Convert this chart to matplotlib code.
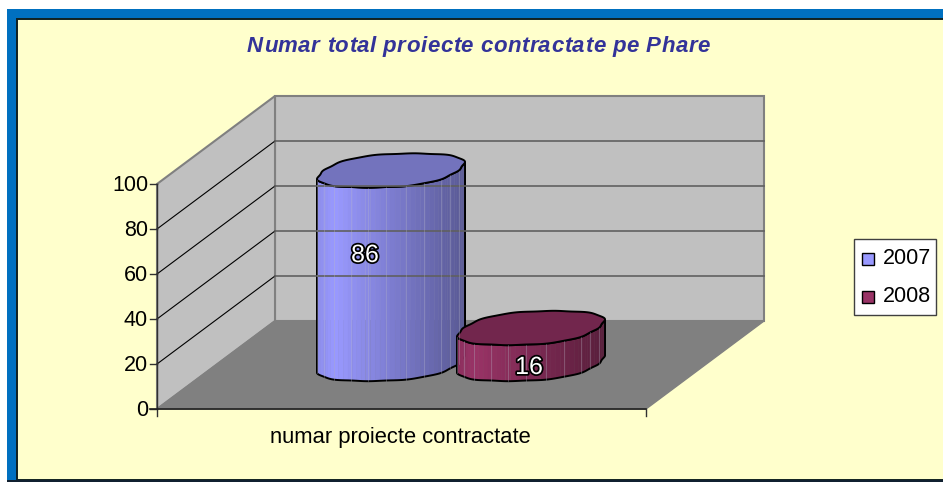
# -*- coding: utf-8 -*-
import numpy as np
import matplotlib
matplotlib.use('Agg')
import matplotlib.pyplot as plt
import matplotlib.patheffects as pe
from matplotlib.patches import Polygon, Rectangle

plt.rcParams['font.family'] = ['Liberation Sans', 'DejaVu Sans']

# data
title = 'Numar total proiecte contractate pe Phare'
category = 'numar proiecte contractate'
years = ['2007', '2008']
values = [86, 16]
y_ticks = [0, 20, 40, 60, 80, 100]

# colours
light = [(153, 153, 255), (153, 51, 102)]
tops = ['#7373bd', '#72264d']

# chart box, in pixels
x0, x1 = 157, 646
y0, y100 = 409, 184
dx, dy = 118, 88


def val_y(v):
    return y0 - v * (y0 - y100) / 100.0


fig = plt.figure(figsize=(9.43, 4.82), dpi=100)
ax = fig.add_axes([0, 0, 1, 1])
ax.set_xlim(0, 943)
ax.set_ylim(482, 0)
ax.axis('off')

# frame
ax.add_patch(Rectangle((7, 9), 940, 480, fc='#0070c0', ec='none'))
ax.add_patch(Rectangle((17, 19), 930, 461, fc='#ffffcc', ec='#102020', lw=1.4))
ax.add_patch(Rectangle((7, 480), 940, 3, fc='#102030', ec='none', zorder=5))

# walls and floor
ax.add_patch(Polygon([(x0 + dx, y100 - dy), (x1 + dx, y100 - dy), (x1 + dx, y0 - dy), (x0 + dx, y0 - dy)],
                     fc='#c0c0c0', ec='#808080', lw=1.5))
ax.add_patch(Polygon([(x0, y100), (x0 + dx, y100 - dy), (x0 + dx, y0 - dy), (x0, y0)],
                     fc='#c0c0c0', ec='#808080', lw=1.5))
ax.add_patch(Polygon([(x0, y0), (x1, y0), (x1 + dx, y0 - dy), (x0 + dx, y0 - dy)],
                     fc='#808080', ec='#808080', lw=1))

for t in y_ticks:
    y = val_y(t)
    if t not in (0, 100):
        ax.plot([x0, x0 + dx], [y, y - dy], color='black', lw=0.8)
        ax.plot([x0 + dx, x1 + dx], [y - dy, y - dy], color='#606060', lw=1.2)
    ax.plot([x0 - 7, x0], [y, y], color='#303030', lw=1)
    ax.text(x0 - 9, y + 1.5, str(t), ha='right', va='center', fontsize=15.5, color='black')

ax.plot([x0, x0], [y100, y0 + 7], color='#303030', lw=1)
ax.plot([x0 - 7, x1], [y0, y0], color='#202020', lw=1.2)
ax.plot([x1, x1], [y0, y0 + 7], color='#303030', lw=1)
ax.text(400.5, 438, category, ha='center', va='center', fontsize=15.8, color='black')

# cylinders
rx, rz = 67.0, 17.0
skew = rz * dx / dy
centers = [391, 531]


def rim(cx, cy, t):
    # a bit squarer than an ellipse, with the facet bumps of the old chart
    bump = (1 + 0.07 * np.sin(2 * t) ** 2) * (1 + 0.012 * np.cos(12 * t))
    c, s = np.cos(t) * bump, np.sin(t) * bump
    return cx + rx * c + skew * s, cy - rz * s


for i, v in enumerate(values):
    cx = centers[i]
    h = val_y(0) - val_y(v)
    cy_top = 364 - h
    tt = np.linspace(0, 2 * np.pi, 361)
    xs, ys = rim(cx, cy_top, tt)
    k_left, k_right = np.argmin(xs), np.argmax(xs)
    # side of the cylinder: from the left edge round the front to the right edge
    ts = tt[k_left:] if k_left > k_right else tt[k_left:k_right + 1]
    if k_left > k_right:
        ts = np.r_[ts, tt[1:k_right + 1] + 2 * np.pi]
    step = ts[::4]
    for a, b in zip(step[:-1], step[1:]):
        xa, ya = rim(cx, cy_top, a)
        xb, yb = rim(cx, cy_top, b)
        f = ((xa + xb) / 2 - (cx - 74)) / 148.0
        shade = 0.92 + 0.08 * f / 0.12 if f < 0.12 else 1 - 0.42 * (f - 0.12) / 0.88
        col = np.array(light[i]) / 255.0 * shade
        ax.add_patch(Polygon([(xa, ya), (xb, yb), (xb, yb + h), (xa, ya + h)], fc=col, ec=col, lw=0.3))
    # lighter facet lines
    for t in np.deg2rad(np.arange(210, 375, 15)):
        xa, ya = rim(cx, cy_top, t)
        ax.plot([xa, xa], [ya, ya + h], color='#b8b8c8', lw=0.5, alpha=0.45)
    # outline and top
    xo, yo = rim(cx, cy_top, ts)
    ax.add_patch(Polygon(np.r_[np.c_[xo, yo], np.c_[xo, yo + h][::-1]], fc='none', ec='black', lw=1.4))
    ax.add_patch(Polygon(np.c_[xs, ys], fc=tops[i], ec='black', lw=1.4))

# data labels
ax.text(365, 255, str(values[0]), ha='center', va='center', fontsize=18, color='white',
        path_effects=[pe.withStroke(linewidth=2.5, foreground='black')])
ax.text(529, 367, str(values[1]), ha='center', va='center', fontsize=18, color='white',
        path_effects=[pe.withStroke(linewidth=2.5, foreground='black')])

# title, letter by letter to get the wide spacing
fig.canvas.draw()
renderer = fig.canvas.get_renderer()
title_style = dict(fontsize=16, style='italic', weight='bold', color='#333399', va='baseline')
probe = ax.text(0, 0, title, **title_style)
width = probe.get_window_extent(renderer).width
gap = (463 - width) / (len(title) - 1)
for n, ch in enumerate(title):
    probe.set_text(title[:n] + '|') if n else probe.set_text('|')
    bar = ax.text(0, 0, '|', **title_style)
    pos = probe.get_window_extent(renderer).width - bar.get_window_extent(renderer).width
    bar.remove()
    ax.text(247 + pos + gap * n, 52, ch, **title_style)
probe.remove()

# legend
ax.add_patch(Rectangle((854, 238.5), 82, 76.5, fc='white', ec='#404040', lw=1))
for i, yr in enumerate(years):
    y = 259 + 37.5 * i
    ax.add_patch(Rectangle((862, y - 6), 12, 12, fc='#%02x%02x%02x' % light[i], ec='black', lw=1))
    ax.text(883, y, yr, ha='left', va='center', fontsize=15.5, color='black')

fig.savefig('out.png', dpi=100)
